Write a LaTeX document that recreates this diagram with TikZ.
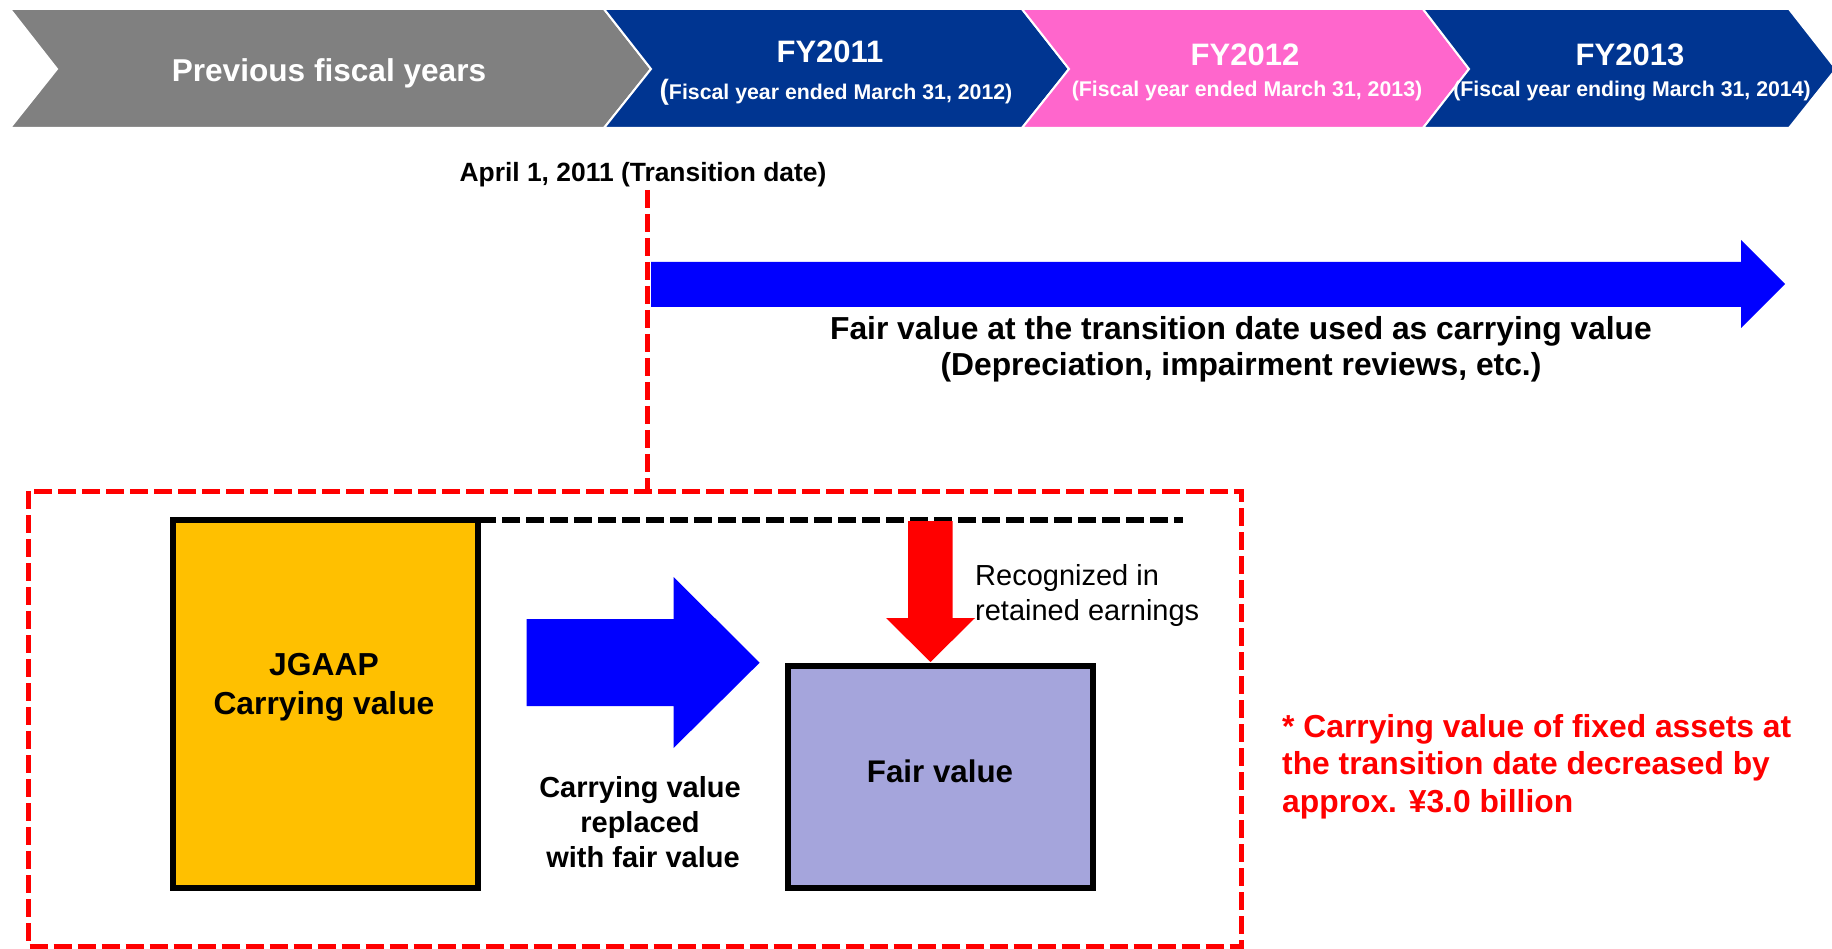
\documentclass[tikz,border=0pt]{standalone}
\usepackage{fontspec}
\setmainfont{Liberation Sans}
\newcommand\myfs[1]{\fontsize{#1pt}{#1pt}\selectfont}
\definecolor{cgray}{RGB}{128,128,128}
\definecolor{cnavy}{RGB}{0,53,145}
\definecolor{cpink}{RGB}{255,102,204}
\definecolor{cblue}{RGB}{0,0,255}
\definecolor{cred}{RGB}{255,0,0}
\definecolor{corange}{RGB}{255,192,0}
\definecolor{clav}{RGB}{165,165,220}
\begin{document}
\begin{tikzpicture}[x=1pt,y=-1pt,
  lbl/.style={inner sep=0pt, anchor=base},
  wlbl/.style={lbl, text=white},
  chev/.style={draw=white, line width=2pt},
  reddash/.style={draw=cred, line width=5pt, dash pattern=on 18pt off 6pt},
  blkdash/.style={draw=black, line width=5.5pt, dash pattern=on 18pt off 6pt},
  valbox/.style={draw=black, line width=5.7pt, inner sep=0pt, outer sep=0pt, anchor=north west},
]
\useasboundingbox (0,0) rectangle (1832,949);

% chevrons
\filldraw[chev, fill=cgray] (10,9) -- (604,9) -- (651,69) -- (604,128) -- (10,128) -- (57,69) -- cycle;
\filldraw[chev, fill=cnavy] (604,9) -- (1022,9) -- (1069,69) -- (1022,128) -- (604,128) -- (651,69) -- cycle;
\filldraw[chev, fill=cpink] (1022,9) -- (1423,9) -- (1469,69) -- (1423,128) -- (1022,128) -- (1069,69) -- cycle;
\filldraw[chev, fill=cnavy] (1423,9) -- (1789,9) -- (1836,69) -- (1789,128) -- (1423,128) -- (1469,69) -- cycle;

\node[wlbl, font=\bfseries\myfs{31.6}] (prev) at (329,81.7) {Previous fiscal years};
\node[wlbl, font=\bfseries\myfs{31}] (fy11) at (830,62.7) {FY2011};
\node[wlbl, font=\bfseries\myfs{21.3}] (fy11s) at (836,100) {{\myfs{28}(}Fiscal year ended March 31, 2012)};
\node[wlbl, font=\bfseries\myfs{31}] (fy12) at (1245,66) {FY2012};
\node[wlbl, font=\bfseries\myfs{21.3}] (fy12s) at (1247,97) {(Fiscal year ended March 31, 2013)};
\node[wlbl, font=\bfseries\myfs{31}] (fy13) at (1630,66) {FY2013};
\node[wlbl, font=\bfseries\myfs{21.3}] (fy13s) at (1632,97) {(Fiscal year ending March 31, 2014)};

% transition date
\node[lbl, font=\bfseries\myfs{26.4}] (apr) at (643,182) {April 1, 2011 (Transition date)};
\coordinate (vtop) at (647,190);
\coordinate (vbot) at (647,491);
\draw[reddash] (vtop) -- (vbot);

% long blue arrow
\fill[cblue] (651,262) -- (1741,262) -- (1741,240) -- (1785,284) -- (1741,328) -- (1741,307) -- (651,307) -- cycle;
\node[lbl, font=\bfseries\myfs{31.8}] (fv1) at (1241,340) {Fair value at the transition date used as carrying value};
\node[lbl, font=\bfseries\myfs{31.8}] (fv2) at (1241,376) {(Depreciation, impairment reviews, etc.)};

% red dashed frame
\draw[reddash] (28.5,491) rectangle (1241,946);

% JGAAP box
\node[valbox, fill=corange, minimum width=305pt, minimum height=368pt] (jg) at (173,520) {};
\node[lbl, font=\bfseries\myfs{31.8}] (jg1) at (324,675) {JGAAP};
\node[lbl, font=\bfseries\myfs{31.8}] (jg2) at (324,714) {Carrying value};
\coordinate (dashend) at (1183,520);
\draw[blkdash] (jg.north east) -- (dashend);

% blue block arrow
\fill[cblue] (526.5,619) -- (673.6,619) -- (673.6,577) -- (759.6,662.7) -- (673.6,748) -- (673.6,706) -- (526.5,706) -- cycle;
\node[lbl, font=\bfseries\myfs{29}] (r1) at (640,797) {Carrying value};
\node[lbl, font=\bfseries\myfs{29}] (r2) at (640,832) {replaced};
\node[lbl, font=\bfseries\myfs{29}] (r3) at (643,867) {with fair value};

% red down arrow
\fill[cred] (908,521) -- (952.7,521) -- (952.7,618) -- (975,618) -- (930.5,662) -- (886,618) -- (908,618) -- cycle;
\node[lbl, anchor=base west, font=\myfs{29}] (rec1) at (975,585) {Recognized in};
\node[lbl, anchor=base west, font=\myfs{29}] (rec2) at (975,620) {retained earnings};

% fair value box
\node[valbox, fill=clav, minimum width=305pt, minimum height=222pt] (fv) at (788,666) {};
\node[lbl, font=\bfseries\myfs{31.3}] (fvt) at (940,782) {Fair value};

% note
\node[lbl, anchor=base west, text=cred, font=\bfseries\myfs{31.8}] (n1) at (1282,737) {* Carrying value of fixed assets at};
\node[lbl, anchor=base west, text=cred, font=\bfseries\myfs{31.8}] (n2) at (1282,774) {the transition date decreased by};
\node[lbl, anchor=base west, text=cred, font=\bfseries\myfs{31.8}] (n3) at (1282,812) {approx. ¥3.0 billion};
\end{tikzpicture}
\end{document}
